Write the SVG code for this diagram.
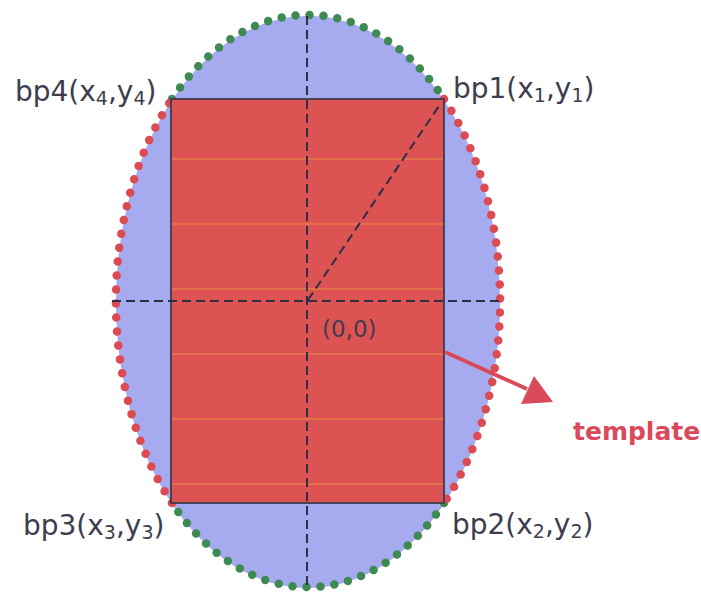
<svg xmlns="http://www.w3.org/2000/svg" width="701" height="594" viewBox="0 0 701 594">
  <style>
    .lbl { font-family: "DejaVu Sans", Verdana, sans-serif; fill: #3d3d4d; font-size: 28px; }
    .sub { font-size: 19px; }
    .dash { stroke: #2e2e44; stroke-width: 2; stroke-dasharray: 9 5; fill: none; }
    .gdot { stroke: #3f8a52; stroke-width: 8.5; stroke-dasharray: 0 14; stroke-linecap: round; fill: none; }
    .rdot { stroke: #dc4a52; stroke-width: 8.5; stroke-dasharray: 0 14; stroke-linecap: round; fill: none; }
    .band { stroke: #f0a040; stroke-width: 1; opacity: 0.8; }
    .arrow { stroke: #d94a58; stroke-width: 4; }
  </style>
  <rect width="701" height="594" fill="#ffffff"/>
  <g id="ellipse">
    <ellipse cx="308" cy="302" rx="192" ry="286" fill="#a6abf0"/>
    <path class="gdot" d="M172,99 A192,286 0 0 1 444,99"/>
    <path class="gdot" d="M444,503 A192,286 0 0 1 172,503"/>
    <path class="rdot" d="M172,503 A192,286 0 0 1 172,99"/>
    <path class="rdot" d="M444,99 A192,286 0 0 1 444,503"/>
  </g>
  <g id="template-rect">
    <rect x="171" y="99" width="273" height="404" fill="#dd5252" stroke="#3c3c4c" stroke-width="1.8"/>
    <line class="band" x1="172" y1="159" x2="443" y2="159"/>
    <line class="band" x1="172" y1="224" x2="443" y2="224"/>
    <line class="band" x1="172" y1="289" x2="443" y2="289"/>
    <line class="band" x1="172" y1="354" x2="443" y2="354"/>
    <line class="band" x1="172" y1="419" x2="443" y2="419"/>
    <line class="band" x1="172" y1="484" x2="443" y2="484"/>
  </g>
  <g id="connectors">
    <line class="dash" x1="112" y1="301" x2="502" y2="301"/>
    <line class="dash" x1="307" y1="16" x2="307" y2="588"/>
    <line class="dash" x1="308" y1="300" x2="441" y2="103"/>
    <line class="arrow" x1="445" y1="352" x2="527" y2="389"/>
    <polygon points="553,402 521,404 534,376" fill="#d94a58"/>
  </g>
  <g id="bp4"><text class="lbl" x="15" y="101">bp4(x<tspan class="sub" dy="4">4</tspan><tspan dy="-4">,y</tspan><tspan class="sub" dy="4">4</tspan><tspan dy="-4">)</tspan></text></g>
  <g id="bp1"><text class="lbl" x="453" y="98">bp1(x<tspan class="sub" dy="4">1</tspan><tspan dy="-4">,y</tspan><tspan class="sub" dy="4">1</tspan><tspan dy="-4">)</tspan></text></g>
  <g id="bp3"><text class="lbl" x="23" y="535">bp3(x<tspan class="sub" dy="4">3</tspan><tspan dy="-4">,y</tspan><tspan class="sub" dy="4">3</tspan><tspan dy="-4">)</tspan></text></g>
  <g id="bp2"><text class="lbl" x="452" y="534">bp2(x<tspan class="sub" dy="4">2</tspan><tspan dy="-4">,y</tspan><tspan class="sub" dy="4">2</tspan><tspan dy="-4">)</tspan></text></g>
  <g id="origin"><text class="lbl" x="322" y="337" style="font-size:23px">(0,0)</text></g>
  <g id="template-label"><text x="573" y="440" style="font-family:'DejaVu Sans',Verdana,sans-serif;font-size:25px;font-weight:bold;fill:#d84a5c">template</text></g>
</svg>
